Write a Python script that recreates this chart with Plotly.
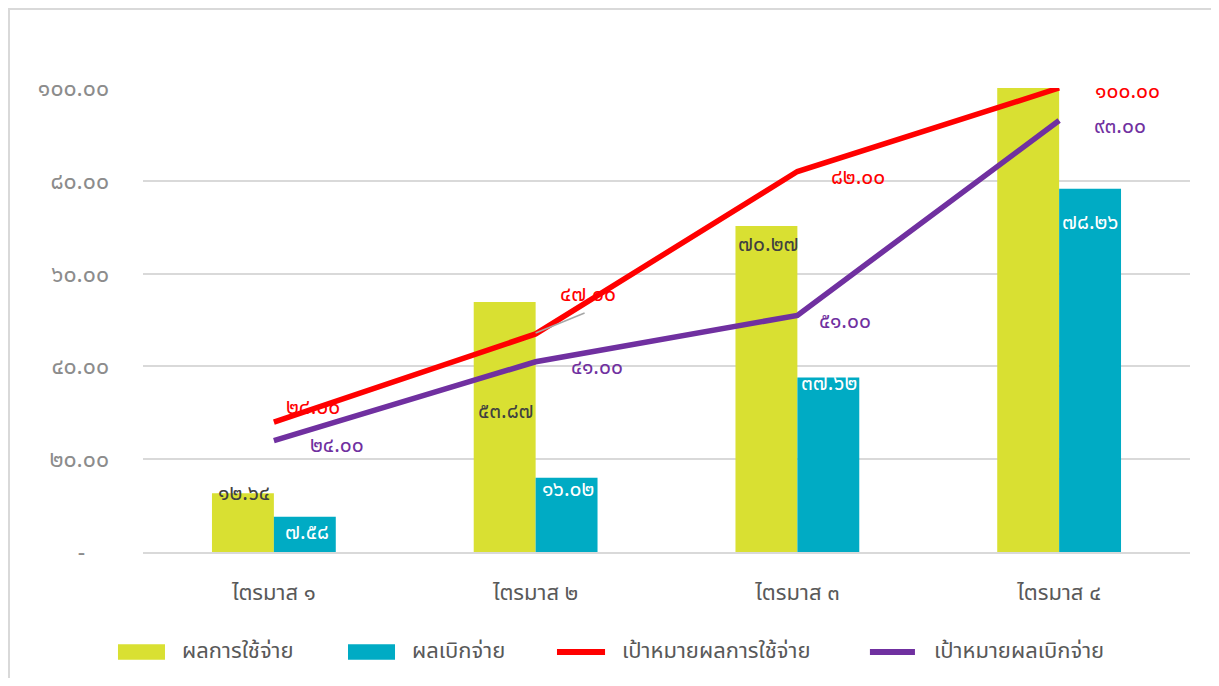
import plotly.graph_objects as go

categories = ["ไตรมาส ๑", "ไตรมาส ๒", "ไตรมาส ๓", "ไตรมาส ๔"]
spend_actual = [12.64, 53.87, 70.27, 100.01]
disburse_actual = [7.58, 16.02, 37.62, 78.26]
spend_target = [28.00, 47.00, 82.00, 100.00]
disburse_target = [24.00, 41.00, 51.00, 93.00]
tick_vals = [0, 20, 40, 60, 80, 100]
series_names = ["ผลการใช้จ่าย", "ผลเบิกจ่าย", "เป้าหมายผลการใช้จ่าย", "เป้าหมายผลเบิกจ่าย"]

THAI_DIGITS = str.maketrans("0123456789", "๐๑๒๓๔๕๖๗๘๙")


def thai(v):
    return f"{v:.2f}".translate(THAI_DIGITS)


tick_text = ["-\u00a0\u00a0\u00a0\u00a0" if v == 0 else thai(v) for v in tick_vals]

YELLOW = "#D9E032"
TEAL = "#00ABC4"
RED = "#FF0000"
PURPLE = "#7030A0"
FONT = "Tahoma, 'Noto Sans Thai', 'Noto Sans', sans-serif"
LBL = 21

fig = go.Figure()
fig.add_trace(go.Bar(x=categories, y=spend_actual, name=series_names[0],
                     marker=dict(color=YELLOW, line=dict(width=0))))
fig.add_trace(go.Bar(x=categories, y=disburse_actual, name=series_names[1],
                     marker=dict(color=TEAL, line=dict(width=0))))
fig.add_trace(go.Scatter(x=categories, y=spend_target, name=series_names[2],
                         mode="lines", line=dict(color=RED, width=5.5)))
fig.add_trace(go.Scatter(x=categories, y=disburse_target, name=series_names[3],
                         mode="lines", line=dict(color=PURPLE, width=5.5)))

# label placement offsets (pixels) copied from reference layout
spend_lbl_shift = [(-30, 0), (-30, -109), (-29, -19), (-28, -95)]
disb_lbl_shift = [(33, -16), (32, -12), (32, -6), (31, -34)]
st_lbl_shift = [(39, 15), (52, 39), (61, -6), (68, -3)]
dt_lbl_shift = [(63, -5), (61, -6), (48, -6), (61, -6)]

ann = []
for i, c in enumerate(categories):
    for vals, shifts, col in ((spend_actual, spend_lbl_shift, "#404040"),
                              (disburse_actual, disb_lbl_shift, "#FFFFFF"),
                              (spend_target, st_lbl_shift, RED),
                              (disburse_target, dt_lbl_shift, PURPLE)):
        dx, dy = shifts[i]
        ann.append(dict(x=c, y=vals[i], text=thai(vals[i]), showarrow=False,
                        xshift=dx, yshift=dy, font=dict(color=col, size=LBL, family=FONT)))

# custom legend (wide swatches like the reference)
leg_y = -0.2155
leg_items = [
    ("rect", YELLOW, -0.0239, 0.0210, 0.0353),
    ("rect", TEAL, 0.1958, 0.2407, 0.2550),
    ("line", RED, 0.3954, 0.4413, 0.4556),
    ("line", PURPLE, 0.6943, 0.7373, 0.7536),
]
shapes = [
    dict(type="rect", xref="paper", yref="paper", x0=-0.128, x1=1.022, y0=-0.40, y1=1.170,
         line=dict(color="#D9D9D9", width=2), layer="below"),
    dict(type="line", xref="x", yref="y", x0=1, x1=1.187, y0=47.2, y1=51.5,
         line=dict(color="#A6A6A6", width=1.5)),
]
for (kind, col, x0, x1, tx), name in zip(leg_items, series_names):
    if kind == "rect":
        shapes.append(dict(type="rect", xref="paper", yref="paper", x0=x0, x1=x1,
                           y0=leg_y - 0.0165, y1=leg_y + 0.0165,
                           fillcolor=col, line=dict(width=0)))
    else:
        shapes.append(dict(type="line", xref="paper", yref="paper", x0=x0, x1=x1,
                           y0=leg_y, y1=leg_y, line=dict(color=col, width=6)))
    ann.append(dict(x=tx, y=leg_y, xref="paper", yref="paper", text=name, showarrow=False,
                    xanchor="left", yanchor="middle",
                    font=dict(size=22, color="#595959", family=FONT)))

fig.update_layout(
    width=1203, height=670,
    margin=dict(l=135, r=21, t=80, b=126),
    paper_bgcolor="white", plot_bgcolor="white",
    barmode="group", bargap=0.527, bargroupgap=0,
    font=dict(family=FONT, color="#595959"),
    annotations=ann,
    shapes=shapes,
    showlegend=False,
)
fig.update_xaxes(showgrid=False, showline=True, linecolor="#D9D9D9", linewidth=2,
                 ticks="", tickfont=dict(size=22, color="#595959"), ticklabelstandoff=20)
fig.update_yaxes(range=[0, 100], tickvals=tick_vals, ticktext=tick_text,
                 showgrid=True, gridcolor="#D9D9D9", gridwidth=2, zeroline=False,
                 showline=False, ticks="", ticklabelstandoff=33,
                 tickfont=dict(size=23, color="#8C8C8C"))
fig.update_traces(cliponaxis=False)

fig.write_html("out.html")
